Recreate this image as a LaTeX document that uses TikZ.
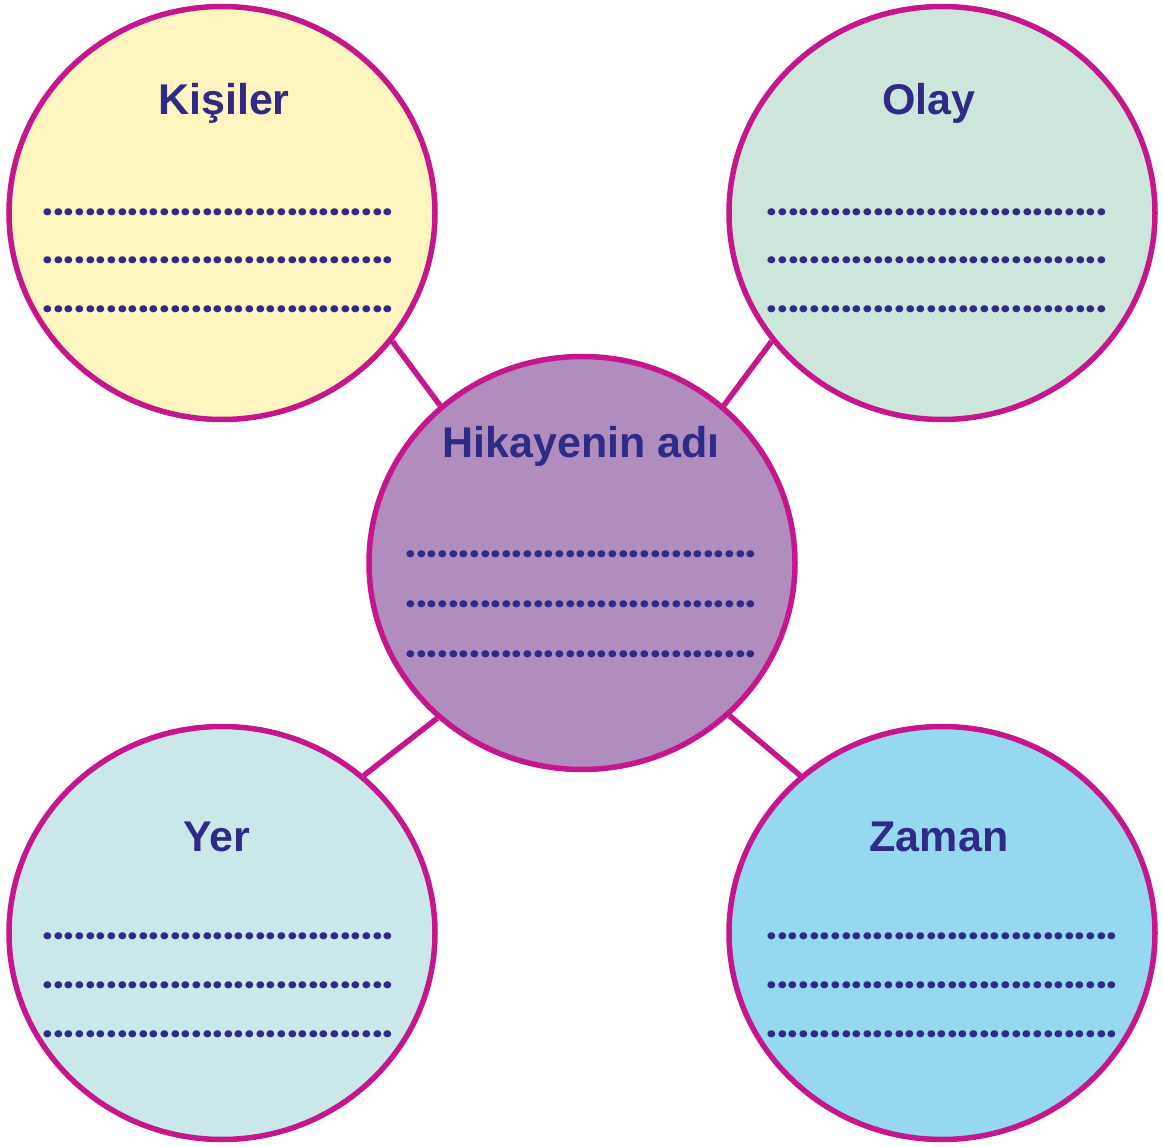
\documentclass[tikz,border=0pt]{standalone}
\usepackage{fontspec}
\setmainfont{Liberation Sans}
\newfontfamily\dotfont{Poppins}
\usetikzlibrary{shapes.geometric}

\definecolor{rim}{HTML}{C5168C}
\definecolor{ink}{HTML}{2E2A86}
\definecolor{kisfill}{HTML}{FEF6BE}
\definecolor{olayfill}{HTML}{CCE6DC}
\definecolor{hikfill}{HTML}{B18CBE}
\definecolor{yerfill}{HTML}{CAE8E9}
\definecolor{zamfill}{HTML}{96D8F0}

\newcommand{\dotsLong}{.................................}
\newcommand{\dotsShort}{................................}

\begin{document}
\begin{tikzpicture}[x=1pt, y=-1pt,
		bubble/.style={draw=rim, line width=5.5pt, ellipse, inner sep=0pt, minimum width=426pt, minimum height=413pt},
		title/.style={anchor=base, text=ink, inner sep=0pt, font=\fontsize{43}{50}\selectfont\bfseries},
		dotrow/.style={anchor=base, text=ink, inner sep=0pt, font=\dotfont\fontsize{37.7}{44}\selectfont\bfseries},
		link/.style={draw=rim, line width=5.5pt}]
				\useasboundingbox (0,0) rectangle (1163,1147);

				\node (kis) [bubble, fill=kisfill] at (222,213) {};
				\node (olay) [bubble, fill=olayfill] at (942,213) {};
				\node (hik) [bubble, fill=hikfill] at (582,563) {};
				\node (yer) [bubble, fill=yerfill] at (222,933) {};
				\node (zam) [bubble, fill=zamfill] at (942,933) {};

				\draw[link] (kis.-37) -- (hik.132);
				\draw[link] (olay.217) -- (hik.48);
				\draw[link] (yer.48) -- (hik.227);
				\draw[link] (zam.132) -- (hik.-46);

				\node (kisT) [title] at (224,115) {Kişiler};
				\node (olayT) [title] at (929,115) {Olay};
				\node (hikT) [title] at (581,458) {Hikayenin adı};
				\node (yerT) [title] at (217,851) {Yer};
				\node (zamT) [title] at (939,851) {Zaman};

				\foreach \y [count=\i] in {216,264,313} {
					\node (kisD\i) [dotrow] at (218,\y) {\dotsLong};
					\node (olayD\i) [dotrow] at (937,\y) {\dotsShort};
				}
				\foreach \y [count=\i] in {558,608,657}
				\node (hikD\i) [dotrow] at (581,\y) {\dotsLong};
				\foreach \y [count=\i] in {939,988,1037} {
					\node (yerD\i) [dotrow] at (218,\y) {\dotsLong};
					\node (zamD\i) [dotrow] at (942,\y) {\dotsLong};
				}
\end{tikzpicture}
\end{document}
